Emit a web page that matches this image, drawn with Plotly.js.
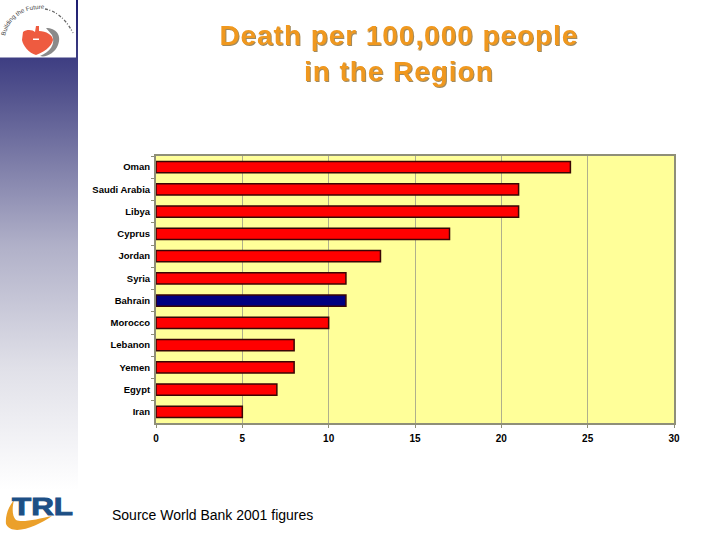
<!DOCTYPE html>
<html>
<head>
<meta charset="utf-8">
<script src="https://cdn.plot.ly/plotly-3.0.1.min.js"></script>
<style>
html,body{margin:0;padding:0;background:#fff;width:720px;height:540px;overflow:hidden}
#deco{position:absolute;left:0;top:0}
#chart{position:absolute;left:0;top:0;width:720px;height:540px}
#chart .gtitle{filter:drop-shadow(1px 1px 0.6px #a08a60);letter-spacing:0.95px}
</style>
</head>
<body>
<svg id="deco" width="720" height="540" xmlns="http://www.w3.org/2000/svg">
  <defs>
    <linearGradient id="side" x1="0" y1="0" x2="0" y2="1">
      <stop offset="0" stop-color="#1c1c70"/>
      <stop offset="0.2" stop-color="#55558f"/>
      <stop offset="0.5" stop-color="#b0b0c8"/>
      <stop offset="0.75" stop-color="#e0e0e8"/>
      <stop offset="1" stop-color="#ffffff"/>
    </linearGradient>
    <path id="arc" d="M5 36 C10 16 26 8 44 9"/>
  </defs>
  <rect x="0" y="0" width="78" height="490" fill="url(#side)"/>
  <rect x="0" y="0" width="76" height="57.5" fill="#fff"/>
  <text font-family="Liberation Sans" font-size="6.2" fill="#444"><textPath href="#arc">Building the Future</textPath></text>
  <path d="M45 9 C56 11 66 19 73 33" fill="none" stroke="#666" stroke-width="1.3" stroke-dasharray="3 1.5 1 2"/>
  <path d="M46 28 C56 28 62 35 58 45 C55 53 46 58 40 56 C50 52 56 44 52 35 Z" fill="#8a8a8a"/>
  <path d="M23 32 C27 29 33 30 35 32 L36 26 L39 26 L39 31 C46 31 53 35 53 40 C52 47 42 53 36 55 C29 53 23 46 22 40 Z" fill="#ee5b40"/>
  <path d="M33 40 h6 v-1.5 h-6 z" fill="#fff"/>
  <path d="M6 524 C5 515 9 506 14 500 C12 508 12 516 16 520 C22 523 38 519 52 516 C38 526 12 537 6 524 Z" fill="#eba02a"/>
  <text x="12" y="515" font-family="Liberation Sans" font-weight="bold" font-size="24" fill="#1d4f85" stroke="#1d4f85" stroke-width="0.9" textLength="61" lengthAdjust="spacingAndGlyphs">TRL</text>
</svg>
<div id="chart"></div>
<script>
var countries = ["Oman","Saudi Arabia","Libya","Cyprus","Jordan","Syria","Bahrain","Morocco","Lebanon","Yemen","Egypt","Iran"];
var deaths = [24,21,21,17,13,11,11,10,8,8,7,5];
var barColors = ["#ff0000","#ff0000","#ff0000","#ff0000","#ff0000","#ff0000","#000080","#ff0000","#ff0000","#ff0000","#ff0000","#ff0000"];
var xTicks = [0,5,10,15,20,25,30];
var chartTitle = "Death per 100,000 people<br>in the Region";
var sourceNote = "Source World Bank 2001 figures";

var labelFont = {family:"Liberation Sans, Arial, sans-serif", size:9.5, color:"#000", weight:"bold"};
var xLabelFont = {family:"Liberation Sans, Arial, sans-serif", size:10, color:"#000", weight:"bold"};
Plotly.newPlot("chart",[{
  type:"bar", orientation:"h",
  x:deaths, y:countries,
  width:0.5,
  marker:{color:barColors, line:{color:"#3a0505", width:1.5}},
  hoverinfo:"x+y"
}],{
  width:720, height:540,
  paper_bgcolor:"rgba(0,0,0,0)",
  plot_bgcolor:"#ffff99",
  margin:{l:156,r:46,t:156,b:117,pad:0},
  showlegend:false,
  title:{
    text:chartTitle,
    x:0.554, xanchor:"center", y:0.917, yanchor:"middle",
    font:{family:"Liberation Sans, Arial, sans-serif", size:28, color:"#f0981e", weight:"bold"}
  },
  xaxis:{
    range:[0,30], tickvals:xTicks, ticktext:xTicks.map(String),
    showgrid:true, gridcolor:"#b0b08c", gridwidth:1,
    showline:true, linecolor:"#8f8f78", linewidth:2, mirror:true,
    ticks:"outside", ticklen:3, tickcolor:"#8f8f78", tickfont:xLabelFont,
    ticklabelstandoff:2,
    zeroline:false, fixedrange:true
  },
  yaxis:{
    type:"category", categoryorder:"array", categoryarray:countries, autorange:"reversed",
    showgrid:false, showline:true, linecolor:"#8f8f78", linewidth:2, mirror:true,
    ticks:"outside", ticklen:3, tickcolor:"#8f8f78", tickson:"boundaries", tickfont:labelFont,
    ticklabelstandoff:2,
    zeroline:false, fixedrange:true
  },
  annotations:[{
    text:sourceNote, xref:"paper", yref:"paper", x:-0.0885, y:-0.345,
    xanchor:"left", yanchor:"middle", showarrow:false,
    font:{family:"Liberation Sans, Arial, sans-serif", size:14, color:"#000"}
  }]
},{displayModeBar:false,staticPlot:true});
</script>
</body>
</html>
